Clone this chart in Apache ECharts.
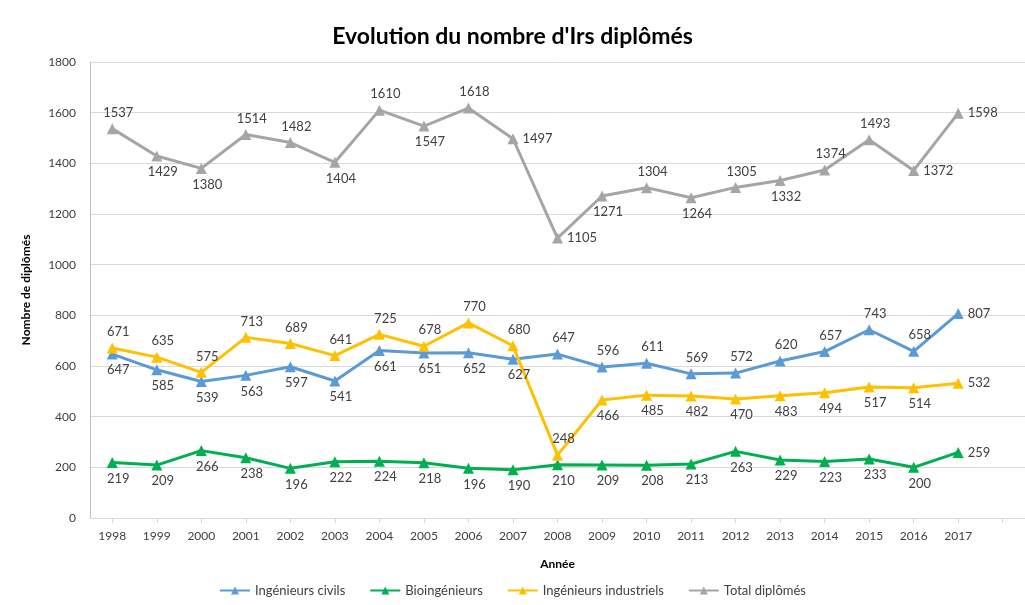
<!DOCTYPE html>
<html>
<head>
<meta charset="utf-8">
<script src="https://cdn.jsdelivr.net/npm/echarts@6/dist/echarts.min.js"></script>
<style>
  html, body { margin: 0; padding: 0; background: #fff; }
  #chart { width: 1025px; height: 605px; }
</style>
</head>
<body>
<div id="chart"></div>
<script>
// years (last category left empty, as in the original axis)
var years = ['1998','1999','2000','2001','2002','2003','2004','2005','2006','2007',
             '2008','2009','2010','2011','2012','2013','2014','2015','2016','2017',''];

var civils      = [647,585,539,563,597,541,661,651,652,627,647,596,611,569,572,620,657,743,658,807];
var bio         = [219,209,266,238,196,222,224,218,196,190,210,209,208,213,263,229,223,233,200,259];
var industriels = [671,635,575,713,689,641,725,678,770,680,248,466,485,482,470,483,494,517,514,532];
var total       = [1537,1429,1380,1514,1482,1404,1610,1547,1618,1497,1105,1271,1304,1264,1305,1332,1374,1493,1372,1598];

// where each data label sits (t = top, b = bottom, r = right)
var civilsPos = 'bbbbbbbbbbtttttttttr';
var bioPos    = 'bbbbbbbbbbbbbbbbbbbr';
var indPos    = 'tttttttttttbbbbbbbbr';
var totalPos  = 'tbbttbtbtrrbtbtbttrr';

var posName = { t: 'top', b: 'bottom', r: 'right' };

function buildData(values, pos) {
    return values.map(function(v, i) {
        var p = posName[pos.charAt(i)];
        // labels in the original sit a bit to the right of the point
        var off = p === 'right' ? [0, 0] : [6, 0];
        return { value: v, label: { position: p, offset: off } };
    });
}

function makeSeries(name, color, values, pos) {
    return {
        name: name,
        type: 'line',
        data: buildData(values, pos),
        symbol: 'triangle',
        symbolSize: 11,
        lineStyle: { color: color, width: 3 },
        itemStyle: { color: color },
        label: {
            show: true,
            color: '#404040',
            fontSize: 13,
            fontFamily: 'Lato',
            distance: 4
        }
    };
}

var chart = echarts.init(document.getElementById('chart'));
chart.setOption({
    animation: false,
    title: {
        text: "Evolution du nombre d'Irs diplômés",
        left: 'center',
        top: 20,
        textStyle: { fontFamily: 'Lato', fontSize: 23, fontWeight: 'bold', color: '#000' }
    },
    legend: {
        bottom: 3,
        left: 'center',
        itemGap: 24,
        itemWidth: 30,
        itemHeight: 10,
        textStyle: { fontFamily: 'Lato', fontSize: 13, color: '#404040' },
        data: ['Ingénieurs civils', 'Bioingénieurs', 'Ingénieurs industriels', 'Total diplômés']
    },
    grid: { left: 90, right: 0, top: 62, bottom: 87 },
    xAxis: {
        type: 'category',
        data: years,
        boundaryGap: true,
        name: 'Année',
        nameLocation: 'middle',
        nameGap: 40,
        nameTextStyle: { fontFamily: 'Lato', fontSize: 12, fontWeight: 'bold', color: '#000' },
        axisLine: { lineStyle: { color: '#D9D9D9', width: 1 } },
        axisTick: { show: true, alignWithLabel: true, length: 5, lineStyle: { color: '#D9D9D9' } },
        axisLabel: { fontFamily: 'Lato', fontSize: 12, color: '#404040', margin: 12, interval: 0 }
    },
    yAxis: {
        type: 'value',
        min: 0,
        max: 1800,
        interval: 200,
        name: 'Nombre de diplômés',
        nameLocation: 'middle',
        nameGap: 58,
        nameTextStyle: { fontFamily: 'Lato', fontSize: 12, fontWeight: 'bold', color: '#000' },
        axisLine: { show: true, lineStyle: { color: '#BFBFBF' } },
        axisTick: { show: false },
        axisLabel: {
            fontFamily: 'Lato', fontSize: 12, color: '#404040', margin: 14,
            formatter: function(v) { return String(v); }
        },
        splitLine: { lineStyle: { color: '#D9D9D9' } }
    },
    series: [
        makeSeries('Ingénieurs civils', '#5B9BD5', civils, civilsPos),
        makeSeries('Bioingénieurs', '#00B050', bio, bioPos),
        makeSeries('Ingénieurs industriels', '#FFC000', industriels, indPos),
        makeSeries('Total diplômés', '#A5A5A5', total, totalPos)
    ]
});
</script>
</body>
</html>
